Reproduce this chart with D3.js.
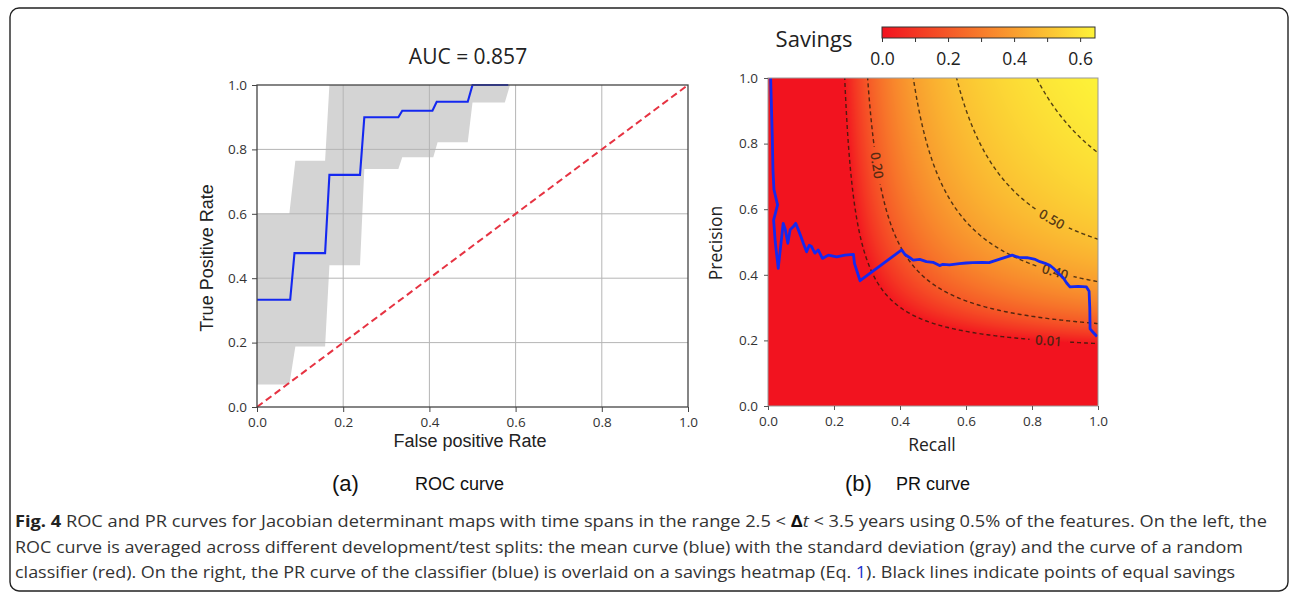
<!DOCTYPE html>
<html>
<head>
<meta charset="utf-8">
<script src="https://cdn.jsdelivr.net/npm/d3@7"></script>
<style>
  body { margin: 0; background: #fff; }
  svg text { font-family: "Open Sans", sans-serif; }
</style>
</head>
<body>
<svg id="fig" width="1292" height="597"></svg>
<script>
// ---- ROC curve (left panel) ----
const rocFpr  = [0, 0.077, 0.087, 0.158, 0.168, 0.239, 0.249, 0.328, 0.337, 0.407, 0.417, 0.489, 0.5, 0.583];
const rocMean = [0.333, 0.333, 0.478, 0.478, 0.721, 0.721, 0.9, 0.9, 0.92, 0.92, 0.948, 0.948, 1.0, 1.0];
const bandFpr = [0, 0.075, 0.089, 0.158, 0.168, 0.239, 0.249, 0.328, 0.337, 0.409, 0.419, 0.489, 0.5, 0.575, 0.587];
const bandLo  = [0.07, 0.07, 0.188, 0.188, 0.44, 0.44, 0.739, 0.739, 0.776, 0.776, 0.822, 0.822, 0.946, 0.946, 1.0];
const bandHi  = [0.6, 0.6, 0.765, 0.765, 1, 1, 1, 1, 1, 1, 1, 1, 1, 1, 1];
const randomFpr = [0, 1];
const randomTpr = [0, 1];
const unitTicks = [0, 0.2, 0.4, 0.6, 0.8, 1.0];

// ---- PR curve (right panel) ----
const prRecall = [0.008, 0.013, 0.015, 0.018, 0.029, 0.017, 0.022, 0.031, 0.046, 0.052, 0.06, 0.067, 0.077, 0.084,
  0.092, 0.1, 0.107, 0.117, 0.125, 0.132, 0.142, 0.152, 0.165, 0.183, 0.208, 0.233, 0.259, 0.262, 0.279,
  0.405, 0.415, 0.43, 0.44, 0.46, 0.48, 0.5, 0.52, 0.53, 0.55, 0.58, 0.6, 0.62, 0.65, 0.67, 0.7, 0.74,
  0.76, 0.785, 0.81, 0.824, 0.84, 0.855, 0.865, 0.88, 0.895, 0.905, 0.915, 0.94, 0.965, 0.973, 0.975,
  0.976, 0.985, 0.997];
const prPrecision = [1.0, 0.82, 0.72, 0.66, 0.613, 0.567, 0.5, 0.42, 0.557, 0.54, 0.496, 0.537, 0.547, 0.557,
  0.537, 0.516, 0.496, 0.47, 0.49, 0.486, 0.466, 0.476, 0.45, 0.46, 0.455, 0.46, 0.462, 0.435, 0.382,
  0.476, 0.462, 0.452, 0.445, 0.447, 0.44, 0.438, 0.428, 0.432, 0.43, 0.434, 0.436, 0.437, 0.438, 0.437, 0.447, 0.46,
  0.453, 0.452, 0.447, 0.44, 0.435, 0.428, 0.42, 0.405, 0.39, 0.375, 0.363, 0.365, 0.363, 0.35, 0.30,
  0.235, 0.225, 0.212];

// savings heatmap (Eq. 1): S = base - recallCost / R - precisionCost / P
const savingsBase = 0.985;
const recallCost = 0.192;
const precisionCost = 0.149;
const savingsMax = 0.645;
const contourLevels = [0.01, 0.2, 0.4, 0.5, 0.6];
const labelLevels = [0.01, 0.2, 0.4, 0.5];
const labelRecall = [0.85, 0.33, 0.87, 0.86];
const colorbarTicks = [0, 0.1, 0.2, 0.3, 0.4, 0.5, 0.6];
const colorbarLabels = ["0.0", "", "0.2", "", "0.4", "", "0.6"];

const savings = (r, p) => savingsBase - recallCost / r - precisionCost / p;
const precisionAt = (t, r) => precisionCost / (savingsBase - t - recallCost / r);

const svg = d3.select("#fig");
const fmt = d3.format(".1f");

// outer frame
svg.append("rect")
  .attr("x", 10).attr("y", 8).attr("width", 1278).attr("height", 583)
  .attr("rx", 9).attr("fill", "none").attr("stroke", "#222").attr("stroke-width", 1.4);

// ================= LEFT: ROC =================
const xL = d3.scaleLinear().domain([0, 1]).range([257, 688]);
const yL = d3.scaleLinear().domain([0, 1]).range([407, 85]);

const left = svg.append("g");

left.append("path")
  .datum(bandFpr.map((f, i) => ({ f, lo: bandLo[i], hi: bandHi[i] })))
  .attr("d", d3.area().x(d => xL(d.f)).y0(d => yL(d.lo)).y1(d => yL(d.hi)))
  .attr("fill", "#d4d4d4");

left.append("g").selectAll("line")
  .data(unitTicks.slice(1, 5))
  .enter().append("line")
  .attr("x1", d => xL(d)).attr("x2", d => xL(d))
  .attr("y1", yL(0)).attr("y2", yL(1))
  .attr("stroke", "#b5b5b5").attr("stroke-width", 1);
left.append("g").selectAll("line")
  .data(unitTicks.slice(1, 5))
  .enter().append("line")
  .attr("y1", d => yL(d)).attr("y2", d => yL(d))
  .attr("x1", xL(0)).attr("x2", xL(1))
  .attr("stroke", "#b5b5b5").attr("stroke-width", 1);

left.append("path")
  .datum(randomFpr.map((f, i) => [f, randomTpr[i]]))
  .attr("d", d3.line().x(d => xL(d[0])).y(d => yL(d[1])))
  .attr("fill", "none").attr("stroke", "#e63342").attr("stroke-width", 2)
  .attr("stroke-dasharray", "7,4");

left.append("path")
  .datum(rocFpr.map((f, i) => [f, rocMean[i]]))
  .attr("d", d3.line().x(d => xL(d[0])).y(d => yL(d[1])))
  .attr("fill", "none").attr("stroke", "#1428f0").attr("stroke-width", 2.1);

left.append("rect")
  .attr("x", xL(0)).attr("y", yL(1))
  .attr("width", xL(1) - xL(0)).attr("height", yL(0) - yL(1))
  .attr("fill", "none").attr("stroke", "#444").attr("stroke-width", 1.3);

const axL = left.append("g").attr("transform", `translate(0,${yL(0)})`)
  .call(d3.axisBottom(xL).tickValues(unitTicks).tickFormat(fmt).tickSize(5).tickPadding(5));
const ayL = left.append("g").attr("transform", `translate(${xL(0)},0)`)
  .call(d3.axisLeft(yL).tickValues(unitTicks).tickFormat(fmt).tickSize(5).tickPadding(5));
[axL, ayL].forEach(a => {
  a.select(".domain").remove();
  a.selectAll("line").attr("stroke", "#444");
  a.selectAll("text").attr("font-size", 13.5).attr("fill", "#333")
    .style("font-family", "'Open Sans', sans-serif");
});

left.append("text").attr("x", 468).attr("y", 64).attr("text-anchor", "middle")
  .attr("font-size", 21).attr("fill", "#222").text("AUC = 0.857");
left.append("text").attr("x", 470).attr("y", 447).attr("text-anchor", "middle")
  .attr("font-size", 18).attr("fill", "#222")
  .style("font-family", "'Liberation Sans', Arial, sans-serif").text("False positive Rate");
left.append("text").attr("transform", "translate(213,258) rotate(-90)").attr("text-anchor", "middle")
  .attr("font-size", 18).attr("fill", "#222")
  .style("font-family", "'Liberation Sans', Arial, sans-serif").text("True Positive Rate");

// ================= RIGHT: PR over savings heatmap =================
const xR = d3.scaleLinear().domain([0, 1]).range([768, 1098]);
const yR = d3.scaleLinear().domain([0, 1]).range([406, 78]);
const color = d3.scaleLinear().domain([0, savingsMax]).range(["#f2131f", "#fdf338"]).clamp(true);

const right = svg.append("g");
const defs = svg.append("defs");
defs.append("clipPath").attr("id", "prClip").append("rect")
  .attr("x", xR(0)).attr("y", yR(1)).attr("width", xR(1) - xR(0)).attr("height", yR(0) - yR(1));

// heatmap via canvas
const hw = Math.round(xR(1) - xR(0)), hh = Math.round(yR(0) - yR(1));
const canvas = document.createElement("canvas");
canvas.width = hw; canvas.height = hh;
const ctx = canvas.getContext("2d");
const img = ctx.createImageData(hw, hh);
for (let j = 0; j < hh; j++) {
  for (let i = 0; i < hw; i++) {
    const r = xR.invert(xR(0) + i + 0.5), p = yR.invert(yR(1) + j + 0.5);
    const c = d3.rgb(color(savings(r, p)));
    const k = (j * hw + i) * 4;
    img.data[k] = c.r; img.data[k + 1] = c.g; img.data[k + 2] = c.b; img.data[k + 3] = 255;
  }
}
ctx.putImageData(img, 0, 0);
right.append("image").attr("x", xR(0)).attr("y", yR(1)).attr("width", hw).attr("height", hh)
  .attr("preserveAspectRatio", "none").attr("href", canvas.toDataURL());

// contour lines from the same field
const n = 240, g0 = 0.02, step = 0.005;
const values = new Array(n * n);
for (let j = 0; j < n; j++) for (let i = 0; i < n; i++) values[j * n + i] = savings(g0 + i * step, g0 + j * step);
const contours = d3.contours().size([n, n]).thresholds(contourLevels)(values);
const gridPath = d3.geoPath(d3.geoTransform({
  point(x, y) { this.stream.point(xR(g0 + (x - 0.5) * step), yR(g0 + (y - 0.5) * step)); }
}));

// label placement and mask to break the lines under labels
const labels = labelLevels.map((t, i) => {
  const r = labelRecall[i], p = precisionAt(t, r);
  const a = [xR(r - 0.01), yR(precisionAt(t, r - 0.01))], b = [xR(r + 0.01), yR(precisionAt(t, r + 0.01))];
  return { t, x: xR(r), y: yR(p), angle: Math.atan2(b[1] - a[1], b[0] - a[0]) * 180 / Math.PI };
});
const mask = defs.append("mask").attr("id", "labelMask");
mask.append("rect").attr("x", 0).attr("y", 0).attr("width", 1292).attr("height", 597).attr("fill", "#fff");
mask.selectAll("rect.hole").data(labels).enter().append("rect").attr("class", "hole")
  .attr("x", -19).attr("y", -8).attr("width", 38).attr("height", 16).attr("fill", "#000")
  .attr("transform", d => `translate(${d.x},${d.y}) rotate(${d.angle})`);

right.append("g").attr("clip-path", "url(#prClip)").append("g").attr("mask", "url(#labelMask)")
  .selectAll("path").data(contours).enter().append("path")
  .attr("d", gridPath).attr("fill", "none")
  .attr("stroke", "#2a1a0a").attr("stroke-opacity", 0.8).attr("stroke-width", 1.4)
  .attr("stroke-dasharray", "4,3");

right.append("g").selectAll("text").data(labels).enter().append("text")
  .attr("transform", d => `translate(${d.x},${d.y}) rotate(${d.angle})`)
  .attr("text-anchor", "middle").attr("dy", "0.35em")
  .attr("font-size", 13.5).attr("font-weight", 600).attr("fill", "#3a2410").attr("fill-opacity", 0.85)
  .text(d => d3.format(".2f")(d.t));

// PR curve
right.append("path")
  .datum(prRecall.map((r, i) => [r, prPrecision[i]]))
  .attr("d", d3.line().x(d => xR(d[0])).y(d => yR(d[1])))
  .attr("fill", "none").attr("stroke", "#1428f0").attr("stroke-width", 2.8)
  .attr("stroke-linejoin", "round");

right.append("rect")
  .attr("x", xR(0)).attr("y", yR(1)).attr("width", xR(1) - xR(0)).attr("height", yR(0) - yR(1))
  .attr("fill", "none").attr("stroke", "#999").attr("stroke-width", 1);

const axR = right.append("g").attr("transform", `translate(0,${yR(0)})`)
  .call(d3.axisBottom(xR).tickValues(unitTicks).tickFormat(fmt).tickSize(4).tickPadding(6));
const ayR = right.append("g").attr("transform", `translate(${xR(0)},0)`)
  .call(d3.axisLeft(yR).tickValues(unitTicks).tickFormat(fmt).tickSize(4).tickPadding(6));
[axR, ayR].forEach(a => {
  a.select(".domain").remove();
  a.selectAll("line").attr("stroke", "#555");
  a.selectAll("text").attr("font-size", 13.5).attr("fill", "#333")
    .style("font-family", "'Open Sans', sans-serif");
});

right.append("text").attr("x", 932).attr("y", 451).attr("text-anchor", "middle")
  .attr("font-size", 17.5).attr("fill", "#222").text("Recall");
right.append("text").attr("transform", "translate(722,243) rotate(-90)").attr("text-anchor", "middle")
  .attr("font-size", 17.5).attr("fill", "#222").text("Precision");

// colorbar
const xC = d3.scaleLinear().domain([0, savingsMax]).range([882, 1095]);
const grad = defs.append("linearGradient").attr("id", "cbGrad");
grad.selectAll("stop").data(d3.range(0, 1.0001, 0.1)).enter().append("stop")
  .attr("offset", d => d).attr("stop-color", d => color(d * savingsMax));
right.append("rect").attr("x", xC(0)).attr("y", 27).attr("width", xC(savingsMax) - xC(0)).attr("height", 11)
  .attr("fill", "url(#cbGrad)").attr("stroke", "#333").attr("stroke-width", 1);
const axC = right.append("g").attr("transform", "translate(0,38)")
  .call(d3.axisBottom(xC).tickValues(colorbarTicks).tickFormat((d, i) => colorbarLabels[i]).tickSize(4).tickPadding(11));
axC.select(".domain").remove();
axC.selectAll("line").attr("stroke", "#333");
axC.selectAll("text").attr("font-size", 17.5).attr("fill", "#222").style("font-family", "'Open Sans', sans-serif");
right.append("text").attr("x", 814).attr("y", 47).attr("text-anchor", "middle")
  .attr("font-size", 22).attr("fill", "#222").text("Savings");

// ================= sub captions =================
const sub = svg.append("g").attr("fill", "#111");
sub.append("text").attr("x", 332).attr("y", 491).attr("font-size", 22).style("font-family", "'Liberation Sans', Arial, sans-serif").text("(a)");
sub.append("text").attr("x", 415).attr("y", 490).attr("font-size", 18).style("font-family", "'Liberation Sans', Arial, sans-serif").text("ROC curve");
sub.append("text").attr("x", 845).attr("y", 491).attr("font-size", 22).style("font-family", "'Liberation Sans', Arial, sans-serif").text("(b)");
sub.append("text").attr("x", 896).attr("y", 490).attr("font-size", 18).style("font-family", "'Liberation Sans', Arial, sans-serif").text("PR curve");

// ================= figure caption =================
const cap = svg.append("g").attr("fill", "#333").attr("font-size", 16);
const l1 = cap.append("text").attr("x", 15).attr("y", 527).attr("textLength", 1252).attr("lengthAdjust", "spacingAndGlyphs");
l1.append("tspan").attr("font-weight", 700).attr("fill", "#222").text("Fig. 4");
l1.append("tspan").text(" ROC and PR curves for Jacobian determinant maps with time spans in the range 2.5 < ");
l1.append("tspan").attr("font-weight", 700).attr("fill", "#111").text("Δ");
l1.append("tspan").attr("font-style", "italic").text("t");
l1.append("tspan").text(" < 3.5 years using 0.5% of the features. On the left, the");
cap.append("text").attr("x", 15).attr("y", 553).attr("textLength", 1228).attr("lengthAdjust", "spacingAndGlyphs")
  .text("ROC curve is averaged across different development/test splits: the mean curve (blue) with the standard deviation (gray) and the curve of a random");
const l3 = cap.append("text").attr("x", 15).attr("y", 578).attr("textLength", 1220).attr("lengthAdjust", "spacingAndGlyphs");
l3.append("tspan").text("classifier (red). On the right, the PR curve of the classifier (blue) is overlaid on a savings heatmap (Eq. ");
l3.append("tspan").attr("fill", "#2233cc").text("1");
l3.append("tspan").text("). Black lines indicate points of equal savings");
</script>
</body>
</html>
